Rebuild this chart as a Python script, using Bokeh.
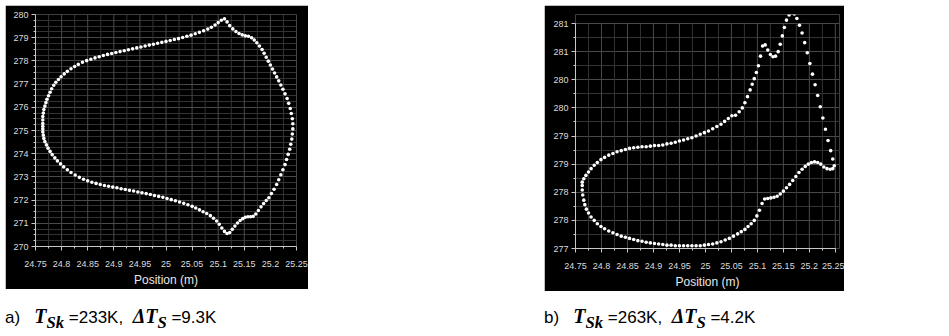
from bokeh.plotting import figure
from bokeh.models import Range1d, FixedTicker, Div, Spacer
from bokeh.layouts import row, column
from bokeh.embed import file_html
from bokeh.resources import INLINE

# ---------------- data ----------------
# panel a) upper branch, left end -> first peak
a_top_x = [24.764, 24.764, 24.764, 24.765, 24.766, 24.768, 24.770, 24.772, 24.775, 24.778,
           24.781, 24.785, 24.789, 24.794, 24.799, 24.805, 24.811, 24.818, 24.825, 24.832,
           24.840, 24.848, 24.856, 24.864, 24.872, 24.880, 24.888, 24.896, 24.904, 24.912,
           24.920, 24.928, 24.936, 24.944, 24.952, 24.960, 24.968, 24.976, 24.984, 24.992,
           25.000, 25.008, 25.016, 25.024, 25.032, 25.040, 25.048, 25.056, 25.064, 25.072,
           25.080, 25.087, 25.094, 25.100, 25.106, 25.112]
a_top_y = [275.30, 275.45, 275.60, 275.75, 275.90, 276.05, 276.20, 276.35, 276.50, 276.65,
           276.80, 276.95, 277.08, 277.20, 277.32, 277.44, 277.55, 277.66, 277.76, 277.85,
           277.94, 278.01, 278.07, 278.13, 278.18, 278.23, 278.28, 278.32, 278.36, 278.40,
           278.44, 278.48, 278.52, 278.56, 278.60, 278.64, 278.68, 278.72, 278.76, 278.80,
           278.84, 278.88, 278.92, 278.96, 279.01, 279.06, 279.11, 279.17, 279.23, 279.30,
           279.37, 279.45, 279.55, 279.65, 279.75, 279.82]
# panel a) after the top peak
a_desc_x = [25.117, 25.122, 25.128, 25.134, 25.140, 25.146, 25.152, 25.158, 25.164, 25.169,
            25.174, 25.179, 25.184, 25.188, 25.192, 25.196]
a_desc_y = [279.68, 279.52, 279.38, 279.27, 279.18, 279.12, 279.08, 279.06, 279.00, 278.90,
            278.78, 278.64, 278.49, 278.33, 278.16, 277.99]
# panel a) right arc
a_right_x = [25.200, 25.204, 25.208, 25.212, 25.216, 25.220, 25.224, 25.228, 25.232, 25.235,
             25.238, 25.240, 25.242, 25.243, 25.243, 25.242, 25.241, 25.239, 25.237, 25.234,
             25.231, 25.228, 25.224, 25.220, 25.216, 25.212, 25.207, 25.202, 25.197]
a_right_y = [277.82, 277.65, 277.48, 277.31, 277.14, 276.96, 276.78, 276.58, 276.38, 276.17,
             275.95, 275.73, 275.51, 275.29, 275.07, 274.85, 274.63, 274.41, 274.19, 273.97,
             273.75, 273.53, 273.31, 273.09, 272.88, 272.67, 272.47, 272.28, 272.10]
# panel a) lower branch, right -> left
a_bot_x = [25.192, 25.187, 25.182, 25.177, 25.172, 25.167, 25.162, 25.157, 25.152, 25.147,
           25.142, 25.137, 25.132, 25.127, 25.122, 25.117, 25.112, 25.107, 25.102, 25.097,
           25.091, 25.085, 25.078, 25.071, 25.064, 25.057, 25.050, 25.042, 25.034, 25.026,
           25.018, 25.010, 25.002, 24.994, 24.986, 24.978, 24.970, 24.962, 24.954, 24.946,
           24.938, 24.930, 24.922, 24.914, 24.906, 24.898, 24.890, 24.882, 24.874, 24.866,
           24.858, 24.850, 24.842, 24.834, 24.826, 24.818, 24.811, 24.804, 24.798, 24.792,
           24.787, 24.782, 24.778, 24.774, 24.771, 24.768, 24.766, 24.765, 24.764, 24.764,
           24.764]
a_bot_y = [271.98, 271.85, 271.71, 271.55, 271.40, 271.30, 271.28, 271.28, 271.26, 271.20,
           271.12, 271.01, 270.88, 270.74, 270.60, 270.56, 270.65, 270.80, 270.96, 271.10,
           271.22, 271.33, 271.42, 271.50, 271.58, 271.66, 271.73, 271.80, 271.86, 271.92,
           271.97, 272.02, 272.07, 272.12, 272.16, 272.20, 272.24, 272.28, 272.32, 272.35,
           272.39, 272.42, 272.46, 272.49, 272.53, 272.56, 272.60, 272.63, 272.67, 272.72,
           272.77, 272.83, 272.90, 272.98, 273.08, 273.19, 273.31, 273.43, 273.56, 273.69,
           273.82, 273.96, 274.10, 274.24, 274.38, 274.52, 274.66, 274.80, 274.94, 275.07,
           275.18]

# panel b) upper branch, left kink -> first peak
b_top_x = [24.763, 24.766, 24.770, 24.775, 24.780, 24.786, 24.792, 24.799, 24.806, 24.814,
           24.822, 24.830, 24.838, 24.846, 24.854, 24.862, 24.870, 24.878, 24.886, 24.894,
           24.902, 24.910, 24.918, 24.926, 24.934, 24.942, 24.950, 24.958, 24.966, 24.974,
           24.982, 24.990, 24.998, 25.006, 25.014, 25.022, 25.030, 25.037, 25.044, 25.051,
           25.058, 25.065, 25.071, 25.076, 25.081, 25.086, 25.090, 25.094, 25.098, 25.102,
           25.106, 25.110]
b_top_y = [278.18, 278.24, 278.30, 278.36, 278.42, 278.48, 278.53, 278.58, 278.62, 278.66,
           278.69, 278.72, 278.74, 278.76, 278.78, 278.79, 278.80, 278.81, 278.81, 278.82,
           278.83, 278.83, 278.84, 278.86, 278.87, 278.89, 278.91, 278.93, 278.95, 278.97,
           279.00, 279.03, 279.06, 279.09, 279.13, 279.17, 279.21, 279.26, 279.31, 279.36,
           279.37, 279.43, 279.50, 279.59, 279.70, 279.82, 279.92, 280.02, 280.13, 280.25,
           280.42, 280.60]
# panel b) hump between the two peaks
b_hump_x = [25.115, 25.120, 25.125, 25.130, 25.135, 25.140, 25.144, 25.148, 25.152, 25.156,
            25.161, 25.166, 25.171, 25.176]
b_hump_y = [280.62, 280.53, 280.45, 280.41, 280.42, 280.50, 280.63, 280.78, 280.93, 281.06,
            281.15, 281.19, 281.17, 281.09]
# panel b) right descent
b_desc_x = [25.181, 25.186, 25.191, 25.196, 25.201, 25.206, 25.211, 25.216, 25.221, 25.226,
            25.231, 25.236, 25.241, 25.245, 25.248]
b_desc_y = [280.97, 280.83, 280.66, 280.48, 280.29, 280.10, 279.91, 279.72, 279.52, 279.32,
            279.12, 278.92, 278.74, 278.59, 278.47]
# panel b) hook, back to the left
b_hook_x = [25.245, 25.240, 25.234, 25.228, 25.222, 25.216, 25.210, 25.204, 25.198, 25.192,
            25.186, 25.180, 25.174, 25.168, 25.162, 25.156, 25.150, 25.144, 25.138, 25.132,
            25.126, 25.120]
b_hook_y = [278.42, 278.41, 278.42, 278.45, 278.50, 278.53, 278.54, 278.53, 278.50, 278.46,
            278.41, 278.35, 278.28, 278.21, 278.14, 278.08, 278.02, 277.97, 277.93, 277.91,
            277.90, 277.89]
# panel b) lower branch, right -> left
b_bot_x = [25.114, 25.109, 25.104, 25.099, 25.094, 25.088, 25.082, 25.076, 25.069, 25.062,
           25.054, 25.046, 25.038, 25.030, 25.022, 25.014, 25.006, 24.998, 24.990, 24.982,
           24.974, 24.966, 24.958, 24.950, 24.942, 24.934, 24.926, 24.918, 24.910, 24.902,
           24.894, 24.886, 24.878, 24.870, 24.862, 24.854, 24.846, 24.838, 24.830, 24.822,
           24.814, 24.806, 24.799, 24.792, 24.786, 24.780, 24.775, 24.771, 24.768, 24.766,
           24.764, 24.763, 24.763]
b_bot_y = [277.88, 277.80, 277.68, 277.58, 277.50, 277.44, 277.39, 277.34, 277.30, 277.26,
           277.22, 277.18, 277.15, 277.12, 277.10, 277.08, 277.07, 277.06, 277.05, 277.05,
           277.05, 277.05, 277.05, 277.05, 277.05, 277.06, 277.06, 277.07, 277.08, 277.09,
           277.10, 277.11, 277.13, 277.14, 277.16, 277.18, 277.20, 277.22, 277.25, 277.28,
           277.31, 277.35, 277.39, 277.44, 277.50, 277.56, 277.63, 277.70, 277.78, 277.86,
           277.95, 278.04, 278.12]

# ticks
x_ticks = [24.75, 24.8, 24.85, 24.9, 24.95, 25.0, 25.05, 25.1, 25.15, 25.2, 25.25]
x_tick_labels = ["24.75", "24.8", "24.85", "24.9", "24.95", "25", "25.05", "25.1", "25.15", "25.2", "25.25"]
a_y_ticks = [270, 271, 272, 273, 274, 275, 276, 277, 278, 279, 280]
a_y_labels = ["270", "271", "272", "273", "274", "275", "276", "277", "278", "279", "280"]
b_y_ticks = [277.0, 277.5, 278.0, 278.5, 279.0, 279.5, 280.0, 280.5, 281.0]
b_y_labels = ["277", "278", "278", "279", "279", "280", "280", "281", "281"]

caption_a = "a)&nbsp;&nbsp; {T}<sub>Sk</sub>{E} =233K,&nbsp; {D}T<sub>S</sub>{E} =9.3K"
caption_b = "b)&nbsp;&nbsp; {T}<sub>Sk</sub>{E} =263K,&nbsp; {D}T<sub>S</sub>{E} =4.2K"

# ---------------- helpers ----------------
GRID_MAJOR = "#4a4a4a"
GRID_MINOR = "#333333"
FONT = "Liberation Sans"


def minor_between(ticks, n):
    out = []
    for a, b in zip(ticks[:-1], ticks[1:]):
        for k in range(1, n):
            out.append(a + (b - a) * k / n)
    return out


def make_panel(xs, ys, y_ticks, y_labels, y_minor_n, y_top, width, height,
               b_left, b_right, b_top, b_bottom, x_end):
    x_minor = minor_between(x_ticks, 2)
    y_minor = minor_between(y_ticks, y_minor_n)
    p = figure(width=width, height=height, output_backend="svg", toolbar_location=None,
               x_range=Range1d(x_ticks[0], x_end), y_range=Range1d(y_ticks[0], y_top),
               background_fill_color="black", border_fill_color="black",
               min_border_left=b_left, min_border_right=b_right,
               min_border_top=b_top, min_border_bottom=b_bottom)
    p.outline_line_color = None
    p.xgrid.visible = False
    # vertical grid lines limited to the tick span
    p.segment(x0=x_minor, y0=[y_ticks[0]] * len(x_minor), x1=x_minor,
              y1=[y_ticks[-1]] * len(x_minor), line_color=GRID_MINOR, line_width=1)
    p.segment(x0=x_ticks, y0=[y_ticks[0]] * len(x_ticks), x1=x_ticks,
              y1=[y_ticks[-1]] * len(x_ticks), line_color=GRID_MAJOR, line_width=1)
    # horizontal grid lines
    p.ygrid.ticker = FixedTicker(ticks=y_ticks, minor_ticks=y_minor)
    p.ygrid.grid_line_color = GRID_MAJOR
    p.ygrid.minor_grid_line_color = GRID_MINOR
    p.ygrid.bounds = (y_ticks[0], y_ticks[-1])

    p.scatter(xs, ys, marker="circle", size=3.6, fill_color="white", line_color=None)

    for ax in (p.xaxis[0], p.yaxis[0]):
        ax.axis_line_color = "#c8c8c8"
        ax.major_tick_line_color = "#c8c8c8"
        ax.minor_tick_line_color = "#c8c8c8"
        ax.major_tick_in = 0
        ax.major_tick_out = 4
        ax.minor_tick_in = 0
        ax.minor_tick_out = 2
        ax.major_label_text_color = "#dcdcdc"
        ax.major_label_text_font = FONT
        ax.major_label_text_font_size = "9px"
    p.yaxis.major_label_standoff = 3
    p.xaxis.major_label_standoff = 10
    p.xaxis.ticker = FixedTicker(ticks=x_ticks, minor_ticks=x_minor)
    p.xaxis.major_label_overrides = dict(zip(x_ticks, x_tick_labels))
    p.xaxis.bounds = (x_ticks[0], x_ticks[-1])
    p.xaxis.axis_label = "Position (m)"
    p.xaxis.axis_label_text_font = FONT
    p.xaxis.axis_label_text_font_size = "12px"
    p.xaxis.axis_label_text_font_style = "normal"
    p.xaxis.axis_label_text_color = "#e8e8e8"
    p.xaxis.axis_label_standoff = 3
    p.yaxis.ticker = FixedTicker(ticks=y_ticks, minor_ticks=y_minor)
    p.yaxis.major_label_overrides = dict(zip(y_ticks, y_labels))
    p.yaxis.bounds = (y_ticks[0], y_ticks[-1])
    return p


def caption(tmpl, width):
    t = ("<span style=\"font-family:'Liberation Serif',serif;font-weight:bold;"
         "font-style:italic;font-size:20px\">")
    e = "</span>"
    html = tmpl.replace("{T}", t + "T").replace("{D}", t + "&Delta;").replace("{E}", e)
    return Div(text=html, width=width, height=28, margin=(0, 0, 0, 0),
               styles={"font-family": "'Liberation Sans', Arial, sans-serif",
                       "font-size": "17px", "color": "#000000", "white-space": "nowrap"})


# ---------------- build ----------------
pa = make_panel(a_top_x + a_desc_x + a_right_x + a_bot_x,
                a_top_y + a_desc_y + a_right_y + a_bot_y,
                a_y_ticks, a_y_labels, 4, a_y_ticks[-1], 303, 284,
                30, 12, 9, 40, x_ticks[-1])
pb = make_panel(b_top_x + b_hump_x + b_desc_x + b_hook_x + b_bot_x,
                b_top_y + b_hump_y + b_desc_y + b_hook_y + b_bot_y,
                b_y_ticks, b_y_labels, 2, 281.16, 300, 286,
                31, 5, 0, 40, 25.258)

da = caption(caption_a, 303)
db = caption(caption_b, 300)

layout = column(
    row(pa, Spacer(width=236, height=10), pb),
    Spacer(width=10, height=11),
    row(da, Spacer(width=236, height=10), db),
    margin=(5, 0, 0, 5),
)

open("out.html", "w").write(file_html(layout, INLINE))
